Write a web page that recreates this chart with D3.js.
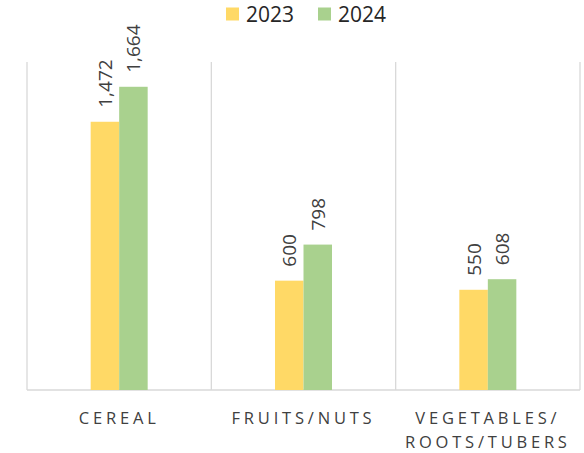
<!DOCTYPE html>
<html><head><meta charset="utf-8">
<script src="https://cdn.jsdelivr.net/npm/d3@7"></script>
<style>body{margin:0;background:#fff}svg{display:block}</style>
</head><body>
<svg id="c" width="584" height="453"></svg>
<script>
const categories = [["CEREAL"], ["FRUITS/NUTS"], ["VEGETABLES/", "ROOTS/TUBERS"]];
const seriesNames = ["2023", "2024"];
const values2023 = [1472, 600, 550];
const values2024 = [1664, 798, 608];
const colors = ["#FFD966", "#A9D18E"];

(function () {
const svg = d3.select("#c");
const pLeft = 27, pRight = 580, pTop = 62, pBottom = 390;
const x = d3.scaleBand().domain(d3.range(categories.length)).range([pLeft, pRight]);
const y = d3.scaleLinear().domain([0, 1800]).range([pBottom, pTop]);
const barW = 28.5;
const xs = d3.scaleBand().domain(seriesNames).range([-barW, barW]);

const edges = d3.range(categories.length + 1).map(i => i < categories.length ? x(i) : pRight);
svg.selectAll("line.grid").data(edges).enter().append("line")
  .attr("x1", d => d).attr("x2", d => d).attr("y1", pTop).attr("y2", pBottom)
  .attr("stroke", "#d9d9d9").attr("stroke-width", 1.3);
svg.append("line").attr("x1", pLeft).attr("x2", pRight).attr("y1", pBottom).attr("y2", pBottom)
  .attr("stroke", "#d9d9d9").attr("stroke-width", 1.3);

const data = [values2023, values2024];
data.forEach((vals, si) => {
  const g = svg.append("g");
  vals.forEach((v, i) => {
    const cx = x(i) + x.bandwidth() / 2;
    const bx = cx + xs(seriesNames[si]);
    g.append("rect").attr("x", bx).attr("width", xs.bandwidth())
      .attr("y", y(v)).attr("height", y(0) - y(v)).attr("fill", colors[si]);
    const lx = bx + xs.bandwidth() / 2 + 7;
    const ly = y(v) - 14;
    g.append("text").attr("transform", `translate(${lx},${ly}) rotate(-90)`)
      .attr("font-family", "Open Sans, sans-serif").attr("font-size", 19)
      .attr("fill", "#404040").text(d3.format(",")(v));
  });
});

categories.forEach((lines, i) => {
  const cx = x(i) + x.bandwidth() / 2;
  lines.forEach((t, j) => {
    svg.append("text").attr("x", cx).attr("y", 424 + j * 24)
      .attr("text-anchor", "middle").attr("font-family", "Open Sans, sans-serif")
      .attr("font-size", 16.5).attr("letter-spacing", 3.8).attr("fill", "#404040").text(t);
  });
});

const leg = [226, 318];
seriesNames.forEach((n, i) => {
  svg.append("rect").attr("x", leg[i]).attr("y", 7.5).attr("width", 13).attr("height", 13).attr("fill", colors[i]);
  svg.append("text").attr("x", leg[i] + 20).attr("y", 22)
    .attr("font-family", "Open Sans, sans-serif").attr("font-size", 21)
    .attr("fill", "#262626").text(n);
});
})();
</script>
</body></html>
